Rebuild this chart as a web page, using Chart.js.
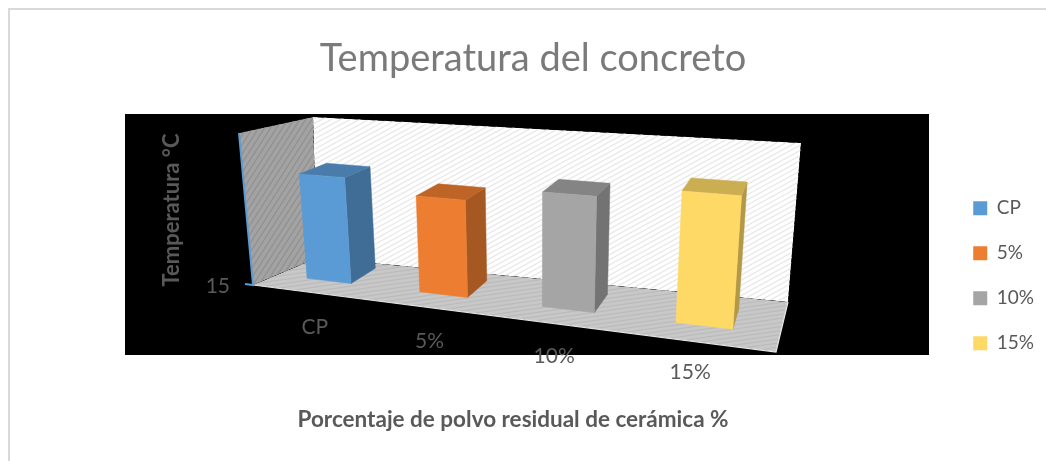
<!DOCTYPE html>
<html lang="es">
<head>
<meta charset="utf-8">
<title>Temperatura del concreto</title>
<script src="https://cdn.jsdelivr.net/npm/chart.js@4"></script>
<style>
  html, body { margin: 0; padding: 0; background: #fff; }
  canvas { display: block; }
</style>
</head>
<body>
<canvas id="grafico" width="1046" height="461"></canvas>
<script>
// Datos del grafico
const categorias = ["CP", "5%", "10%", "15%"];
const temperaturas = [25.5, 24.3, 25.7, 26.8];
const colores = ["#5B9BD5", "#ED7D31", "#A5A5A5", "#FFD966"];
const ticksY = [15];

const tituloEjeX = "Porcentaje de polvo residual de cerámica %";
const tituloEjeY = "Temperatura °C";

const colorTexto = "#595959";
const fuente = "Lato, 'Open Sans', sans-serif";

// Esquinas de la caja 3D en pantalla: frente-izq, frente-der, fondo-der, fondo-izq
const piso = [[253, 285], [776, 352], [788, 302], [317, 258]];
const techo = [[239, 133], [791, 181], [801, 143], [313, 117]];

// Franja del piso donde se apoyan las barras (mismo orden de esquinas)
const franjaBarras = [[275, 274.5], [777, 334.5], [780.4, 314], [302.3, 260]];

// Punto de fuga de las verticales
const fuga = [537, 3367];

// homografia del cuadrado unitario a un cuadrilatero
function crearHomografia(q) {
    const [[x0, y0], [x1, y1], [x2, y2], [x3, y3]] = q;
    const dx1 = x1 - x2, dx2 = x3 - x2, sx = x0 - x1 + x2 - x3;
    const dy1 = y1 - y2, dy2 = y3 - y2, sy = y0 - y1 + y2 - y3;
    const den = dx1 * dy2 - dx2 * dy1;
    const g = (sx * dy2 - dx2 * sy) / den;
    const h = (dx1 * sy - sx * dy1) / den;
    const a = x1 - x0 + g * x1, b = x3 - x0 + h * x3;
    const d = y1 - y0 + g * y1, e = y3 - y0 + h * y3;
    return (u, p) => {
        const w = g * u + h * p + 1;
        return [(a * u + b * p + x0) / w, (d * u + e * p + y0) / w];
    };
}

const hFranja = crearHomografia(franjaBarras);

// u = posicion en x, p = profundidad, v = altura (todo de 0 a 1)
function proyectar(u, p, v) {
    const base = hFranja(u, p);
    // la altura total crece cuanto mas cerca esta el punto
    const s = (0.0493 + 0.000148 * (base[1] - 285)) * v;
    return [base[0] + (base[0] - fuga[0]) * s, base[1] + (base[1] - fuga[1]) * s];
}

function trazar(ctx, puntos) {
    ctx.beginPath();
    puntos.forEach((pt, i) => i ? ctx.lineTo(pt[0], pt[1]) : ctx.moveTo(pt[0], pt[1]));
    ctx.closePath();
}

function relleno(ctx, puntos, color) {
    trazar(ctx, puntos);
    ctx.fillStyle = color;
    ctx.fill();
    ctx.strokeStyle = color;
    ctx.lineWidth = 0.5;
    ctx.stroke();
}

// pared o piso con rayado diagonal
function rayado(ctx, puntos, base, raya, angulo, periodo, grosor) {
    ctx.save();
    trazar(ctx, puntos);
    ctx.clip();
    ctx.fillStyle = base;
    ctx.fill();
    ctx.strokeStyle = raya;
    ctx.lineWidth = grosor;
    const c = Math.cos(angulo), s = Math.sin(angulo);
    for (let k = -1200; k < 1200; k += periodo) {
        const ox = 520 - s * k, oy = 230 + c * k;
        ctx.beginPath();
        ctx.moveTo(ox - c * 1200, oy - s * 1200);
        ctx.lineTo(ox + c * 1200, oy + s * 1200);
        ctx.stroke();
    }
    ctx.restore();
}

function oscurecer(hex, f) {
    const n = parseInt(hex.slice(1), 16);
    const r = Math.round((n >> 16 & 255) * f);
    const g = Math.round((n >> 8 & 255) * f);
    const b = Math.round((n & 255) * f);
    return `rgb(${r}, ${g}, ${b})`;
}

function dibujarCaja(ctx) {
    // pared lateral, fondo y piso
    rayado(ctx, [techo[0], techo[3], piso[3], piso[0]], "#a3a3a3", "#929292", -1.0, 5, 1.4);
    rayado(ctx, [techo[3], techo[2], piso[2], piso[3]], "#ffffff", "#e8e8e8", -0.5, 4.5, 1.3);
    rayado(ctx, piso, "#c8c8c8", "#bbbbbb", -0.14, 4, 1.2);

    // borde claro del piso
    ctx.strokeStyle = "#e8e8e8";
    ctx.lineWidth = 1.2;
    ctx.beginPath();
    ctx.moveTo(piso[0][0], piso[0][1]);
    ctx.lineTo(piso[1][0], piso[1][1]);
    ctx.lineTo(piso[2][0], piso[2][1]);
    ctx.stroke();
}

function dibujarBarras(chart, ctx) {
    const area = chart.chartArea;
    const ejeY = chart.scales.y;
    chart.getDatasetMeta(0).data.forEach((barra, i) => {
        const u0 = (barra.x - barra.width / 2 - area.left) / area.width;
        const u1 = (barra.x + barra.width / 2 - area.left) / area.width;
        const v = (ejeY.bottom - barra.y) / ejeY.height;
        const color = colores[i];

        const fa = proyectar(u0, 0, v), fb = proyectar(u1, 0, v);
        const fc = proyectar(u1, 0, 0), fd = proyectar(u0, 0, 0);
        const ta = proyectar(u0, 1, v), tb = proyectar(u1, 1, v);
        const tc = proyectar(u1, 1, 0);

        relleno(ctx, [fb, tb, tc, fc], oscurecer(color, 0.7));
        relleno(ctx, [fa, ta, tb, fb], oscurecer(color, 0.8));
        relleno(ctx, [fa, fb, fc, fd], color);
    });
}

function dibujarEjes(chart, ctx) {
    const area = chart.chartArea;
    const ejeX = chart.scales.x;
    const ejeY = chart.scales.y;

    // linea azul del eje vertical
    ctx.strokeStyle = "#5B9BD5";
    ctx.lineWidth = 2;
    ctx.beginPath();
    ctx.moveTo(techo[0][0], techo[0][1]);
    ctx.lineTo(piso[0][0], piso[0][1]);
    ctx.lineTo(piso[0][0] - 8, piso[0][1] - 1);
    ctx.stroke();

    ctx.fillStyle = colorTexto;
    ctx.textBaseline = "middle";

    // ticks del eje Y, a la izquierda del pie del eje
    ctx.font = "21px " + fuente;
    ctx.textAlign = "right";
    ejeY.ticks.forEach(t => {
        ctx.fillText(String(t.value), piso[0][0] - 23, ejeY.getPixelForValue(t.value) - ejeY.bottom + piso[0][1] + 1);
    });

    // categorias del eje X, siguen el borde frontal de las barras
    ctx.textAlign = "center";
    categorias.forEach((cat, i) => {
        const u = (ejeX.getPixelForValue(i) - area.left) / area.width;
        const pt = proyectar(u, 0, 0);
        ctx.fillText(cat, pt[0] - 14, pt[1] + 46.5);
    });

    // titulos de los ejes
    ctx.font = "bold 22.5px " + fuente;
    ctx.fillText(tituloEjeX, 513, 420);
    ctx.font = "bold 22px " + fuente;
    ctx.save();
    ctx.translate(172, 210);
    ctx.rotate(-Math.PI / 2);
    ctx.fillText(tituloEjeY, 0, 0);
    ctx.restore();
}

const caja3d = {
    id: "caja3d",
    beforeDraw(chart) {
        const ctx = chart.ctx;
        ctx.save();
        ctx.fillStyle = "#fff";
        ctx.fillRect(0, 0, chart.width, chart.height);
        // marco gris del grafico, sin lado derecho
        ctx.fillStyle = "#d9d9d9";
        ctx.fillRect(8, 8, chart.width - 8, 2);
        ctx.fillRect(8, 8, 2, chart.height - 8);
        // fondo negro del area de trazado
        ctx.fillStyle = "#000";
        ctx.fillRect(125, 114, 804, 241);
        ctx.restore();
    },
    beforeDatasetDraw() {
        // las barras planas no se dibujan, se reemplazan por las 3D
        return false;
    },
    afterDatasetsDraw(chart) {
        const ctx = chart.ctx;
        ctx.save();
        dibujarCaja(ctx);
        dibujarBarras(chart, ctx);
        dibujarEjes(chart, ctx);
        ctx.restore();
    }
};

new Chart(document.getElementById("grafico"), {
    type: "bar",
    data: {
        labels: categorias,
        datasets: [{
            label: "Temperatura",
            data: temperaturas,
            backgroundColor: colores,
            barPercentage: 0.4,
            categoryPercentage: 1
        }]
    },
    options: {
        responsive: false,
        animation: false,
        layout: { padding: { left: 22, right: 2, top: 0, bottom: 9 } },
        scales: {
            x: { display: false },
            y: {
                display: false,
                min: 15,
                max: 30,
                afterBuildTicks(eje) { eje.ticks = ticksY.map(value => ({ value })); }
            }
        },
        plugins: {
            title: {
                display: true,
                text: "Temperatura del concreto",
                color: "#7a7a7a",
                font: { family: fuente, size: 38, weight: "400", lineHeight: 1.2 },
                padding: { top: 36, bottom: 18 }
            },
            legend: {
                position: "right",
                fullSize: false,
                labels: {
                    color: colorTexto,
                    font: { family: fuente, size: 19 },
                    boxWidth: 14,
                    boxHeight: 14,
                    padding: 26,
                    generateLabels: () => categorias.map((cat, i) => ({
                        text: cat,
                        fontColor: colorTexto,
                        fillStyle: colores[i],
                        strokeStyle: colores[i],
                        lineWidth: 0,
                        index: i
                    }))
                }
            },
            tooltip: { enabled: false }
        }
    },
    plugins: [caja3d]
});
</script>
</body>
</html>
